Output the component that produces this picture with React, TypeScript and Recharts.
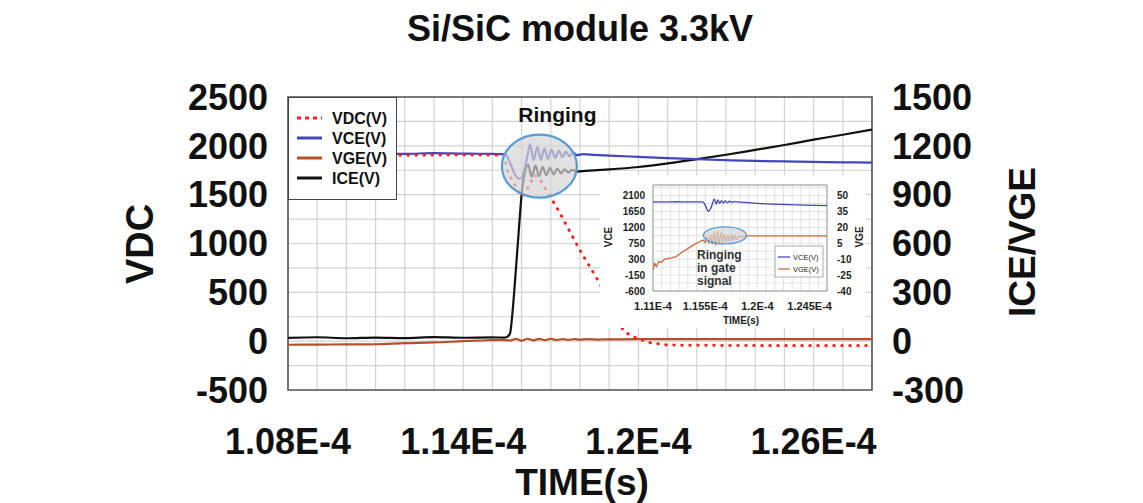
import React from "react";
import {
  LineChart,
  Line,
  XAxis,
  YAxis,
  CartesianGrid,
  ReferenceArea,
  ReferenceDot,
} from "recharts";

// ---------- time axis (values in microseconds, labels in seconds) ----------
const mainTimeGrid = [108, 109, 110, 111, 112, 113, 114, 115, 116, 117, 118, 119, 120, 121, 122, 123, 124, 125, 126, 127, 128];
const mainTimeLabelValues = [108, 114, 120, 126];
const mainTimeLabels = ["1.08E-4", "1.14E-4", "1.2E-4", "1.26E-4"];

const vdcGrid = [-500, -250, 0, 250, 500, 750, 1000, 1250, 1500, 1750, 2000, 2250, 2500];
const vdcLabelValues = [-500, 0, 500, 1000, 1500, 2000, 2500];
const vdcLabels = ["-500", "0", "500", "1000", "1500", "2000", "2500"];

const iceTicks = [-300, 0, 300, 600, 900, 1200, 1500];
const iceLabels = ["-300", "0", "300", "600", "900", "1200", "1500"];

// ---------- main chart series ----------
const vdcTime = [108, 110, 112, 114, 115.4, 115.53, 115.77, 116.0, 116.2, 116.45, 116.6, 117.25, 118.0, 118.7, 119.5, 119.9, 120.4, 121.0, 122, 124, 126, 128];
const vdcVolt = [1905, 1908, 1904, 1906, 1905, 1725, 1600, 1480, 1560, 1700, 1670, 1345, 930, 580, 100, 35, -15, -40, -42, -45, -45, -45];

const vceTime = [108, 109, 110, 111, 112, 113, 114, 115, 115.45, 115.6, 115.75, 115.9, 116.0, 116.1, 116.2, 116.29, 116.41, 116.54, 116.66, 116.78, 116.9, 117.03, 117.15, 117.28, 117.4, 117.52, 117.64, 117.76, 117.9, 118.1, 118.5, 119, 120, 121, 122, 123, 124, 125, 126, 127, 128];
const vceVolt = [1920, 1925, 1915, 1922, 1918, 1925, 1920, 1918, 1912, 1830, 1720, 1665, 1675, 1760, 1900, 2015, 1850, 1990, 1858, 1975, 1866, 1960, 1875, 1950, 1885, 1940, 1895, 1930, 1905, 1915, 1908, 1900, 1887, 1874, 1863, 1853, 1845, 1840, 1835, 1831, 1828];

const vgeTime = [108, 109, 110, 111, 112, 113, 114, 114.6, 115.3, 115.6, 115.8, 116.0, 116.2, 116.4, 116.6, 116.8, 117.0, 117.2, 117.4, 117.6, 117.8, 118.0, 118.3, 118.6, 119, 120, 122, 124, 126, 128];
const vgeVolt = [-22, -21, -20, -19, -12, -8, 0, 4, 8, 4, 14, 3, 15, 5, 14, 6, 15, 7, 13, 8, 12, 9, 12, 10, 11, 12, 12, 12, 12, 12];

const iceTime = [108, 109, 110, 111, 112, 113, 114, 115, 115.4, 115.5, 115.6, 115.7, 115.8, 115.9, 116.0, 116.1, 116.22, 116.35, 116.47, 116.6, 116.72, 116.85, 116.97, 117.1, 117.22, 117.35, 117.47, 117.6, 117.72, 117.9, 118.2, 119, 120, 121, 122, 123, 124, 125, 126, 127, 128];
const iceAmp = [20, 24, 18, 22, 19, 25, 21, 23, 22, 26, 45, 200, 430, 670, 900, 1030, 1085, 1010, 1078, 1015, 1070, 1020, 1065, 1025, 1060, 1030, 1056, 1035, 1052, 1042, 1046, 1055, 1070, 1092, 1118, 1145, 1175, 1205, 1238, 1268, 1300];

// ---------- inset series ----------
const insetTimeGrid = [111, 111.75, 112.5, 113.25, 114, 114.75, 115.5, 116.25, 117, 117.75, 118.5, 119.25, 120, 120.75, 121.5, 122.25, 123, 123.75, 124.5, 125.25, 126];
const insetTimeLabelValues = [111, 115.5, 120, 124.5];
const insetTimeLabels = ["1.11E-4", "1.155E-4", "1.2E-4", "1.245E-4"];
const insetVceGrid = [-600, -375, -150, 75, 300, 525, 750, 975, 1200, 1425, 1650, 1875, 2100, 2325];
const insetVceLabelValues = [-600, -150, 300, 750, 1200, 1650, 2100];
const insetVceLabels = ["-600", "-150", "300", "750", "1200", "1650", "2100"];
const insetVgeTicks = [-40, -25, -10, 5, 20, 35, 50];
const insetVgeLabels = ["-40", "-25", "-10", "5", "20", "35", "50"];

const insetVceTime = [111, 112, 113, 114, 115, 115.3, 115.5, 115.78, 116.0, 116.3, 116.45, 116.6, 116.75, 116.9, 117.05, 117.2, 117.4, 117.6, 117.8, 118.0, 118.5, 120, 122, 124, 126];
const insetVceVolt = [1925, 1922, 1926, 1922, 1924, 1920, 1830, 1650, 1760, 2000, 1860, 1980, 1880, 1960, 1890, 1950, 1900, 1940, 1910, 1930, 1915, 1880, 1850, 1830, 1815];

const insetVgeTime = [111, 111.15, 111.3, 111.5, 111.7, 112, 112.5, 113, 113.5, 114, 114.5, 115, 115.3, 115.5, 115.65, 115.8, 115.95, 116.1, 116.25, 116.4, 116.55, 116.7, 116.85, 117.0, 117.15, 117.3, 117.45, 117.6, 117.75, 117.9, 118.05, 118.2, 118.4, 118.6, 119, 120, 122, 124, 126];
const insetVgeVolt = [-20, -14, -17, -12, -13, -10, -9, -7.5, -3.5, 0, 3.5, 6.5, 8, 6, 11, 5, 13, 4, 15, 3, 16, 4, 15, 5, 14, 6, 13, 7, 13, 8, 12, 9, 11.5, 11, 12, 12, 12, 12, 12];

// ---------- annotation anchors ----------
const mainRingAnchor = { t: 116.61, v: 1792 };
const insetRingAnchor = { t: 117.2, v: 12.5 };

const zip = (ts: number[], vs: number[]) => ts.map((t, i) => ({ t, v: vs[i] }));
const vdcData = zip(vdcTime, vdcVolt);
const vceData = zip(vceTime, vceVolt);
const vgeData = zip(vgeTime, vgeVolt);
const iceData = zip(iceTime, iceAmp);
const insetVceData = zip(insetVceTime, insetVceVolt);
const insetVgeData = zip(insetVgeTime, insetVgeVolt);

const FONT = "'Liberation Sans', Arial, Helvetica, sans-serif";
const RED = "#ff1f1f";
const BLUE = "#4346bb";
const BROWN = "#b4502a";
const BLACK = "#111111";
const ORANGE = "#cf6a3e";

const legendItems = [
  { name: "VDC(V)", color: RED, dash: "4 4" },
  { name: "VCE(V)", color: BLUE, dash: "" },
  { name: "VGE(V)", color: BROWN, dash: "" },
  { name: "ICE(V)", color: BLACK, dash: "" },
];
const insetLegendItems = [
  { name: "VCE(V)", color: BLUE },
  { name: "VGE(V)", color: ORANGE },
];

function labelFor(values: number[], labels: string[]) {
  return (v: number) => {
    const i = values.findIndex((x) => Math.abs(x - v) < 1e-6);
    return i >= 0 ? labels[i] : "";
  };
}

const bigTick = { fontSize: 36, fontWeight: 700, fill: "#111", fontFamily: FONT };
const smallTick = { fontSize: 10, fontWeight: 700, fill: "#222", fontFamily: FONT };
const smallXTick = { fontSize: 11, fontWeight: 700, fill: "#222", fontFamily: FONT };

const MainRing = (props: any) => {
  const { cx, cy } = props;
  return (
    <g>
      <ellipse cx={cx} cy={cy} rx={37.5} ry={31.5} fill="#d4d4d4" fillOpacity={0.7} stroke="#5b9bd5" strokeWidth={2.2} />
      <text x={cx + 18} y={cy - 44} textAnchor="middle" fontFamily={FONT} fontWeight={700} fontSize={21} fill="#111">
        Ringing
      </text>
    </g>
  );
};

const InsetRing = (props: any) => {
  const { cx, cy } = props;
  return (
    <ellipse cx={cx} cy={cy} rx={21.5} ry={8.5} fill="#d4d4d4" fillOpacity={0.7} stroke="#5b9bd5" strokeWidth={1.4} />
  );
};

export default function App() {
  return (
    <div style={{ position: "absolute", left: 0, top: 0, width: 1143, height: 503, background: "#fff", fontFamily: FONT, overflow: "hidden" }}>
      <LineChart width={1143} height={503} margin={{ top: 97, right: 151, bottom: 53, left: 168 }}>
        <CartesianGrid yAxisId="vdc" stroke="#d2d2d2" strokeWidth={1.2} />
        <XAxis
          type="number"
          dataKey="t"
          domain={[108, 128]}
          ticks={mainTimeGrid}
          interval={0}
          tickFormatter={labelFor(mainTimeLabelValues, mainTimeLabels)}
          tickLine={false}
          axisLine={false}
          tickMargin={32}
          height={60}
          tick={bigTick}
          allowDataOverflow
        />
        <YAxis
          yAxisId="vdc"
          type="number"
          domain={[-500, 2500]}
          ticks={vdcGrid}
          interval={0}
          tickFormatter={labelFor(vdcLabelValues, vdcLabels)}
          tickLine={false}
          axisLine={false}
          tickMargin={14}
          width={120}
          tick={bigTick}
          allowDataOverflow
        />
        <YAxis
          yAxisId="ice"
          orientation="right"
          type="number"
          domain={[-300, 1500]}
          ticks={iceTicks}
          interval={0}
          tickFormatter={labelFor(iceTicks, iceLabels)}
          tickLine={false}
          axisLine={false}
          tickMargin={14}
          width={120}
          tick={{ ...bigTick, textAnchor: "start" }}
          allowDataOverflow
        />
        <ReferenceArea yAxisId="vdc" x1={108} x2={128} y1={-500} y2={2500} fill="none" stroke="#555" strokeWidth={1.6} />
        <ReferenceDot yAxisId="vdc" x={mainRingAnchor.t} y={mainRingAnchor.v} shape={MainRing} />
        <Line yAxisId="ice" data={iceData} dataKey="v" stroke={BLACK} strokeWidth={2.2} dot={false} isAnimationActive={false} type="monotone" />
        <Line yAxisId="ice" data={vgeData} dataKey="v" stroke={BROWN} strokeWidth={2.2} dot={false} isAnimationActive={false} type="monotone" />
        <Line yAxisId="vdc" data={vceData} dataKey="v" stroke={BLUE} strokeWidth={2.2} dot={false} isAnimationActive={false} type="monotone" />
        <Line yAxisId="vdc" data={vdcData} dataKey="v" stroke={RED} strokeWidth={3} strokeDasharray="0.5 7.5" strokeLinecap="round" dot={false} isAnimationActive={false} type="linear" />
      </LineChart>

      {/* main legend */}
      <div style={{ position: "absolute", left: 288, top: 97, width: 109, height: 103, background: "#fff", border: "1.6px solid #444", boxSizing: "border-box" }}>
        <svg width={106} height={100} style={{ position: "absolute", left: 0, top: 0 }}>
          {legendItems.map((it, i) => (
            <g key={it.name}>
              <line x1={8} x2={33} y1={20 + i * 20} y2={20 + i * 20} stroke={it.color} strokeWidth={3} strokeDasharray={it.dash || undefined} />
              <text x={43} y={20 + i * 20} dy="0.36em" fontFamily={FONT} fontWeight={700} fontSize={16} fill="#111">
                {it.name}
              </text>
            </g>
          ))}
        </svg>
      </div>

      {/* inset */}
      <div style={{ position: "absolute", left: 600, top: 175, width: 266, height: 153, background: "#fff" }}>
        <LineChart width={266} height={153} margin={{ top: 10, right: 0, bottom: 0, left: 0 }}>
          <CartesianGrid yAxisId="ivce" stroke="#dadada" strokeWidth={0.8} />
          <XAxis
            type="number"
            dataKey="t"
            domain={[111, 126]}
            ticks={insetTimeGrid}
            interval={0}
            tickFormatter={labelFor(insetTimeLabelValues, insetTimeLabels)}
            tickLine={false}
            axisLine={false}
            tickMargin={5}
            height={37}
            tick={smallXTick}
            allowDataOverflow
          />
          <YAxis
            yAxisId="ivce"
            type="number"
            domain={[-600, 2400]}
            ticks={insetVceGrid}
            interval={0}
            tickFormatter={labelFor(insetVceLabelValues, insetVceLabels)}
            tickLine={false}
            axisLine={false}
            tickMargin={2}
            width={53}
            tick={smallTick}
            allowDataOverflow
          />
          <YAxis
            yAxisId="ivge"
            orientation="right"
            type="number"
            domain={[-40, 60]}
            ticks={insetVgeTicks}
            interval={0}
            tickFormatter={labelFor(insetVgeTicks, insetVgeLabels)}
            tickLine={false}
            axisLine={false}
            tickMargin={4}
            width={39}
            tick={smallTick}
            allowDataOverflow
          />
          <ReferenceArea yAxisId="ivce" x1={111} x2={126} y1={-600} y2={2400} fill="none" stroke="#999" strokeWidth={1} />
          <ReferenceDot yAxisId="ivge" x={insetRingAnchor.t} y={insetRingAnchor.v} shape={InsetRing} />
          <Line yAxisId="ivce" data={insetVceData} dataKey="v" stroke={BLUE} strokeWidth={1.3} dot={false} isAnimationActive={false} type="monotone" />
          <Line yAxisId="ivge" data={insetVgeData} dataKey="v" stroke={ORANGE} strokeWidth={1.3} dot={false} isAnimationActive={false} type="linear" />
        </LineChart>
        <svg width={266} height={153} style={{ position: "absolute", left: 0, top: 0, pointerEvents: "none" }}>
          <text transform="translate(12,62) rotate(-90)" textAnchor="middle" fontFamily={FONT} fontWeight={700} fontSize={10} fill="#222">VCE</text>
          <text transform="translate(263,62) rotate(-90)" textAnchor="middle" fontFamily={FONT} fontWeight={700} fontSize={10} fill="#222">VGE</text>
          <text x={141} y={149} textAnchor="middle" fontFamily={FONT} fontWeight={700} fontSize={10} fill="#222">TIME(s)</text>
          <text fontFamily={FONT} fontWeight={700} fontSize={12} fill="#333">
            <tspan x={97} y={84}>Ringing</tspan>
            <tspan x={97} y={97}>in gate</tspan>
            <tspan x={97} y={110}>signal</tspan>
          </text>
          <rect x={175} y={71} width={48} height={31} fill="#fff" stroke="#999" strokeWidth={0.8} />
          {insetLegendItems.map((it, i) => (
            <g key={it.name}>
              <line x1={178} x2={190} y1={82 + i * 12} y2={82 + i * 12} stroke={it.color} strokeWidth={1.3} />
              <text x={193} y={82 + i * 12} dy="0.35em" fontFamily={FONT} fontSize={7.5} fill="#222">{it.name}</text>
            </g>
          ))}
        </svg>
      </div>

      {/* titles */}
      <svg width={1143} height={503} style={{ position: "absolute", left: 0, top: 0, pointerEvents: "none" }}>
        <text x={580} y={41} textAnchor="middle" fontFamily={FONT} fontWeight={700} fontSize={36} fill="#111">
          Si/SiC module 3.3kV
        </text>
        <text transform="translate(153,244) rotate(-90)" textAnchor="middle" fontFamily={FONT} fontWeight={700} fontSize={38} fill="#111">
          VDC
        </text>
        <text transform="translate(1035,242) rotate(-90)" textAnchor="middle" fontFamily={FONT} fontWeight={700} fontSize={37} fill="#111">
          ICE/VGE
        </text>
        <text x={582} y={495} textAnchor="middle" fontFamily={FONT} fontWeight={700} fontSize={37} fill="#111">
          TIME(s)
        </text>
      </svg>
    </div>
  );
}
